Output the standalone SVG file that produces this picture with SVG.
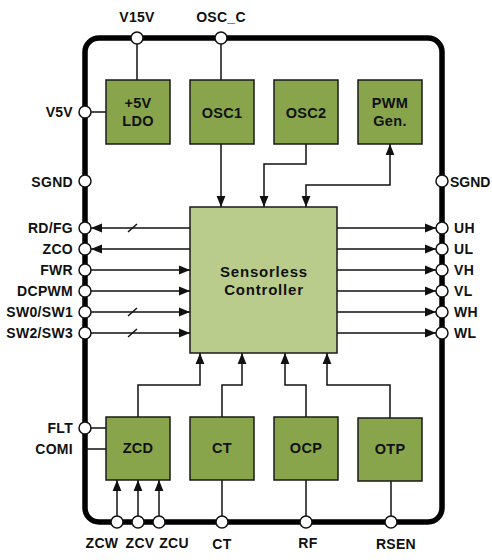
<svg xmlns="http://www.w3.org/2000/svg" width="492" height="560" viewBox="0 0 492 560">
<style>
.t{font-family:"Liberation Sans",Arial,sans-serif;font-weight:bold;font-size:14px;letter-spacing:0.3px;fill:#111}
.b{font-size:14.5px}
.c{font-size:15px;letter-spacing:0.8px}
.l{text-anchor:end}
.m{text-anchor:middle}
.blk{fill:#88a54b;stroke:#1a1a1a;stroke-width:1.5}
.ctl{fill:#b9cc8b;stroke:#1a1a1a;stroke-width:1.5}
.w{fill:none;stroke:#111;stroke-width:1.5}
.a{fill:none;stroke:#111;stroke-width:1.5;marker-end:url(#ah)}
.pin{fill:#fff;stroke:#111;stroke-width:1.5}
</style>
<defs>
<marker id="ah" viewBox="0 0 10 10" refX="10" refY="5" markerWidth="11" markerHeight="11" markerUnits="userSpaceOnUse" orient="auto">
<path d="M0,1 L10,5 L0,9 Z" fill="#111"/>
</marker>
<marker id="as" viewBox="0 0 10 10" refX="10" refY="5" markerWidth="11" markerHeight="11" markerUnits="userSpaceOnUse" orient="auto-start-reverse">
<path d="M0,1 L10,5 L0,9 Z" fill="#111"/>
</marker>
</defs>
<rect x="85" y="38" width="357" height="484" rx="14" fill="none" stroke="#000" stroke-width="5.5"/>
<g id="connectors">
<path class="w" d="M137,38 V80"/>
<path class="w" d="M221,38 V80"/>
<path class="w" d="M85,112 H106"/>
<path class="a" d="M221,144 V207"/>
<path class="a" d="M306,144 V164 H264 V207"/>
<path class="w" d="M306,207 V185 H390 V144" marker-start="url(#as)" marker-end="url(#as)"/>
<path class="a" d="M190,228 H91"/>
<path class="a" d="M190,249 H91"/>
<path class="a" d="M91,270 H190"/>
<path class="a" d="M91,291 H190"/>
<path class="a" d="M91,312 H190"/>
<path class="a" d="M91,333 H190"/>
<path class="w" d="M128,232 L137,224 M128,316 L137,308 M128,337 L137,329"/>
<path class="a" d="M337,228 H436"/>
<path class="a" d="M337,249 H436"/>
<path class="a" d="M337,270 H436"/>
<path class="a" d="M337,291 H436"/>
<path class="a" d="M337,312 H436"/>
<path class="a" d="M337,333 H436"/>
<path class="a" d="M138,417 V385 H200 V353"/>
<path class="a" d="M222,417 V385 H242 V353"/>
<path class="a" d="M306,417 V385 H285 V353"/>
<path class="a" d="M390,418 V385 H327 V353"/>
<path class="w" d="M85,428 H106"/>
<path class="w" d="M85,449 H106"/>
<path class="a" d="M117,516 V480"/>
<path class="a" d="M138,516 V480"/>
<path class="a" d="M159,516 V480"/>
<path class="w" d="M222,516 V480"/>
<path class="w" d="M306,516 V480"/>
<path class="w" d="M391,516 V481"/>
</g>
<g id="pins">
<circle class="pin" cx="137" cy="38" r="6"/>
<circle class="pin" cx="221" cy="38" r="6"/>
<circle class="pin" cx="85" cy="112" r="6"/>
<circle class="pin" cx="85" cy="181" r="6"/>
<circle class="pin" cx="442" cy="181" r="6"/>
<circle class="pin" cx="85" cy="228" r="6"/>
<circle class="pin" cx="85" cy="249" r="6"/>
<circle class="pin" cx="85" cy="270" r="6"/>
<circle class="pin" cx="85" cy="291" r="6"/>
<circle class="pin" cx="85" cy="312" r="6"/>
<circle class="pin" cx="85" cy="333" r="6"/>
<circle class="pin" cx="442" cy="228" r="6"/>
<circle class="pin" cx="442" cy="249" r="6"/>
<circle class="pin" cx="442" cy="270" r="6"/>
<circle class="pin" cx="442" cy="291" r="6"/>
<circle class="pin" cx="442" cy="312" r="6"/>
<circle class="pin" cx="442" cy="333" r="6"/>
<circle class="pin" cx="85" cy="428" r="6"/>
<circle class="pin" cx="117" cy="522" r="6"/>
<circle class="pin" cx="138" cy="522" r="6"/>
<circle class="pin" cx="159" cy="522" r="6"/>
<circle class="pin" cx="222" cy="522" r="6"/>
<circle class="pin" cx="306" cy="522" r="6"/>
<circle class="pin" cx="391" cy="522" r="6"/>
</g>
<g id="ldo"><rect class="blk" x="106" y="80" width="64" height="64"/><text class="t b m" x="138" y="108">+5V</text><text class="t b m" x="138" y="126">LDO</text></g>
<g id="osc1"><rect class="blk" x="190" y="80" width="64" height="64"/><text class="t b m" x="222" y="118">OSC1</text></g>
<g id="osc2"><rect class="blk" x="274" y="80" width="64" height="64"/><text class="t b m" x="306" y="118">OSC2</text></g>
<g id="pwm"><rect class="blk" x="358" y="80" width="64" height="64"/><text class="t b m" x="390" y="108">PWM</text><text class="t b m" x="390" y="126">Gen.</text></g>
<g id="controller"><rect class="ctl" x="190" y="207" width="147" height="146"/><text class="t c m" x="264" y="277">Sensorless</text><text class="t c m" x="264" y="295">Controller</text></g>
<g id="zcd"><rect class="blk" x="106" y="417" width="64" height="63"/><text class="t b m" x="138" y="453">ZCD</text></g>
<g id="ct"><rect class="blk" x="190" y="417" width="64" height="63"/><text class="t b m" x="222" y="453">CT</text></g>
<g id="ocp"><rect class="blk" x="274" y="417" width="64" height="63"/><text class="t b m" x="306" y="453">OCP</text></g>
<g id="otp"><rect class="blk" x="358" y="418" width="64" height="63"/><text class="t b m" x="390" y="454">OTP</text></g>
<g id="labels">
<text class="t m" x="137" y="22">V15V</text>
<text class="t m" x="221" y="22">OSC_C</text>
<text class="t l" x="73" y="117">V5V</text>
<text class="t l" x="73" y="187">SGND</text>
<text class="t" x="450" y="187" style="letter-spacing:0">SGND</text>
<text class="t l" x="73" y="233">RD/FG</text>
<text class="t l" x="73" y="254">ZCO</text>
<text class="t l" x="73" y="275">FWR</text>
<text class="t l" x="73" y="296">DCPWM</text>
<text class="t l" x="73" y="317">SW0/SW1</text>
<text class="t l" x="73" y="338">SW2/SW3</text>
<text class="t" x="454" y="233">UH</text>
<text class="t" x="454" y="254">UL</text>
<text class="t" x="454" y="275">VH</text>
<text class="t" x="454" y="296">VL</text>
<text class="t" x="454" y="317">WH</text>
<text class="t" x="454" y="338">WL</text>
<text class="t l" x="73" y="433">FLT</text>
<text class="t l" x="73" y="454">COMI</text>
<text class="t m" x="102" y="548">ZCW</text>
<text class="t m" x="140" y="548">ZCV</text>
<text class="t m" x="174" y="548">ZCU</text>
<text class="t m" x="222" y="549">CT</text>
<text class="t m" x="308" y="548">RF</text>
<text class="t m" x="396" y="549">RSEN</text>
</g>
</svg>
